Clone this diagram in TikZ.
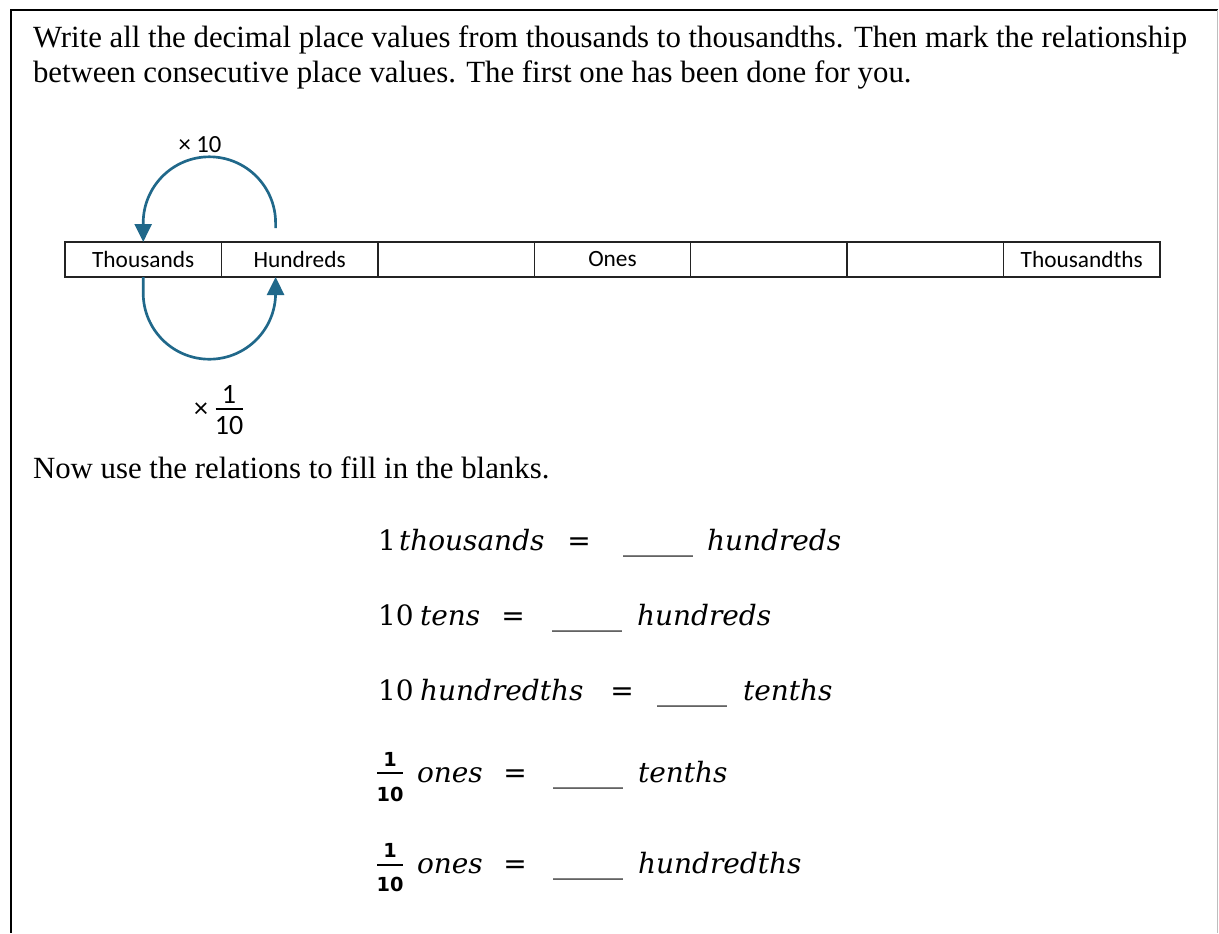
\documentclass[tikz,border=0pt]{standalone}
\usepackage{fontspec}
\setmainfont{Liberation Serif}
\newfontfamily\cellfont{Carlito}
\newfontfamily\eqfont{DejaVu Serif}
\newfontfamily\fracfont{DejaVu Sans}
\usetikzlibrary{arrows.meta,calc}
\definecolor{arcblue}{RGB}{32,104,138}
\definecolor{framegray}{RGB}{190,190,190}
\definecolor{tabline}{RGB}{35,35,35}
\newsavebox\measurebox
\newcommand{\bodytext}{\fontsize{20}{24}\selectfont}
\begin{document}
\sbox\measurebox{\bodytext Write all the decimal place values from thousands to thousandths. Then mark the relationship}%
\pgfmathsetmacro\bodyscale{865.5/\the\wd\measurebox}%
\begin{tikzpicture}[x=0.75pt,y=-0.75pt,
  bodyline/.style={anchor=base west, inner sep=0pt, outer sep=0pt},
  cell/.style={draw=tabline, line width=1.1pt, minimum width=117.32pt, minimum height=26.25pt,
    inner sep=0pt, outer sep=0pt, font=\cellfont\fontsize{17.5}{20}\selectfont},
  arcline/.style={draw=arcblue, line width=2pt, -{Triangle[length=13.5pt,width=12.75pt]}},
  lbl/.style={inner sep=0pt, outer sep=0pt, font=\cellfont\fontsize{18.5}{22}\selectfont},
  fraclbl/.style={inner sep=0pt, outer sep=0pt, font=\cellfont\fontsize{21}{24}\selectfont},
  eqword/.style={anchor=base west, inner sep=0pt, outer sep=0pt, font=\eqfont\itshape\fontsize{21}{24}\selectfont},
  eqnum/.style={anchor=base west, inner sep=0pt, outer sep=0pt, font=\eqfont\fontsize{21}{24}\selectfont},
  eqsign/.style={anchor=base, inner sep=0pt, outer sep=0pt, font=\fracfont\fontsize{21}{24}\selectfont},
  fracdig/.style={inner sep=0pt, outer sep=0pt, font=\fracfont\bfseries\fontsize{14.5}{16}\selectfont},
  fracbar/.style={line width=2.2pt},
  ]
\useasboundingbox (0,0) rectangle (1219,933);
% frame
\draw[line width=2.2pt] (10,10) -- (1218,10);
\draw[line width=1.1pt] (11,10) -- (11,933);
\draw[framegray, line width=0.8pt] (1217.5,10) -- (1217.5,933);
% body text
\node[bodyline] (t1) at (33,47) {\scalebox{\bodyscale}{\bodytext Write all the decimal place values from thousands to thousandths. Then mark the relationship}};
\node[bodyline] (t2) at (33,82) {\scalebox{\bodyscale}{\bodytext between consecutive place values. The first one has been done for you.}};
\node[bodyline] (t3) at (33,478) {\scalebox{\bodyscale}{\bodytext Now use the relations to fill in the blanks.}};
% table
\node[cell] (c1) at (143.2,259.5) {Thousands};
\node[cell] (c2) at (299.6,259.5) {Hundreds};
\node[cell] (c3) at (456.1,259.5) {};
\node[cell] (c4) at (612.5,259.5) {Ones};
\node[cell] (c5) at (768.9,259.5) {};
\node[cell] (c6) at (925.4,259.5) {};
\node[cell] (c7) at (1081.8,259.5) {Thousandths};
% arcs
\coordinate (ua) at ([xshift=-18pt,yshift=10.5pt]c2.north);
\coordinate (lb) at ([xshift=-18pt]c2.south);
\draw[arcline] (ua) -- ++(0,-5) arc[start angle=0,end angle=180,radius=49.65pt] -- (c1.north);
\draw[arcline] (c1.south) -- ++(0,16) arc[start angle=180,end angle=360,radius=49.65pt] -- (lb);
% labels
\node[lbl] (x10) at (200,145) {× 10};
\node[fraclbl] (xs) at (201,410) {×};
\node[fraclbl] (fn) at (229,394) {1};
\node[fraclbl] (fd) at (229,425) {10};
\draw[line width=1.4pt] (215.5,409) -- (242.5,409);
% equation 1
\node[eqnum] (e1a) at (378,550) {1};
\node[eqword] (e1b) at (399,550) {thousands};
\node[eqsign] (e1c) at (579,550) {=};
\node[eqnum] (e1d) at (623,550) {\_\_\_\_\_};
\node[eqword] (e1e) at (707,550) {hundreds};
% equation 2
\node[eqnum] (e2a) at (378,625) {10};
\node[eqword] (e2b) at (420,625) {tens};
\node[eqsign] (e2c) at (513,625) {=};
\node[eqnum] (e2d) at (552,625) {\_\_\_\_\_};
\node[eqword] (e2e) at (637,625) {hundreds};
% equation 3
\node[eqnum] (e3a) at (378,700) {10};
\node[eqword] (e3b) at (420,700) {hundredths};
\node[eqsign] (e3c) at (622,700) {=};
\node[eqnum] (e3d) at (657,700) {\_\_\_\_\_};
\node[eqword] (e3e) at (743,700) {tenths};
% equation 4
\node[fracdig] (e4n) at (390,759) {1};
\node[fracdig] (e4d) at (390,794) {10};
\draw[fracbar] (377,773) -- (403,773);
\node[eqword] (e4b) at (417,782) {ones};
\node[eqsign] (e4c) at (515,782) {=};
\node[eqnum] (e4e) at (553,782) {\_\_\_\_\_};
\node[eqword] (e4f) at (638,782) {tenths};
% equation 5
\node[fracdig] (e5n) at (390,850) {1};
\node[fracdig] (e5d) at (390,884) {10};
\draw[fracbar] (377,865) -- (403,865);
\node[eqword] (e5b) at (417,873) {ones};
\node[eqsign] (e5c) at (515,873) {=};
\node[eqnum] (e5e) at (553,873) {\_\_\_\_\_};
\node[eqword] (e5f) at (638,873) {hundredths};
\end{tikzpicture}
\end{document}
